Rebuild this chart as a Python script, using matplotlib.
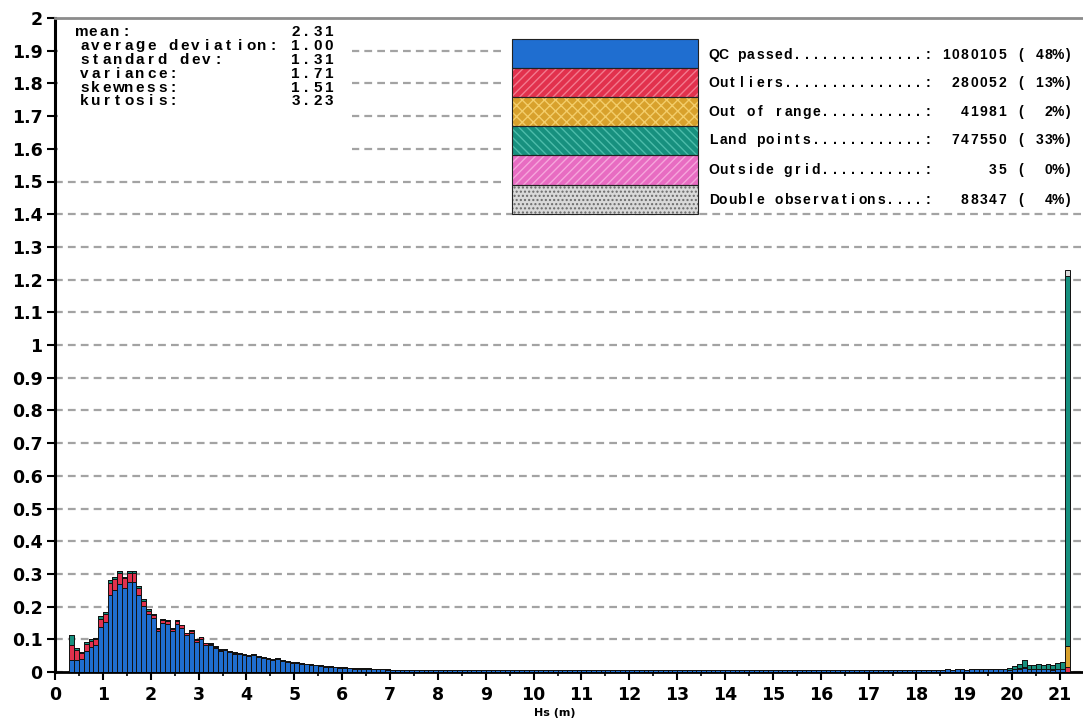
import numpy as np
import matplotlib
matplotlib.use("Agg")
import matplotlib.pyplot as plt
from matplotlib.patches import Rectangle

# ---------------------------------------------------------------- data
bin_width = 0.1
first_bin = 0.3

# 0.3 .. 6.9 m
qc_main = [
    0.037, 0.038, 0.040, 0.065, 0.075, 0.082, 0.137, 0.152, 0.237, 0.250,
    0.268, 0.256, 0.274, 0.275, 0.237, 0.203, 0.176, 0.164, 0.124, 0.150,
    0.148, 0.125, 0.147, 0.135, 0.112, 0.119, 0.093, 0.101, 0.084, 0.082,
    0.073, 0.065, 0.067, 0.060, 0.056, 0.054, 0.051, 0.049, 0.051, 0.045,
    0.042, 0.039, 0.037, 0.039, 0.034, 0.032, 0.029, 0.028, 0.025, 0.023,
    0.021, 0.020, 0.018, 0.016, 0.015, 0.014, 0.013, 0.012, 0.011, 0.010,
    0.010, 0.009, 0.009, 0.008, 0.008, 0.008, 0.007,
]
outliers_main = [
    0.045, 0.030, 0.018, 0.022, 0.020, 0.018, 0.025, 0.025, 0.035, 0.035,
    0.035, 0.030, 0.030, 0.028, 0.020, 0.015, 0.012, 0.010, 0.008, 0.009,
    0.009, 0.008, 0.008, 0.008, 0.006, 0.007, 0.005, 0.005, 0.004, 0.004,
    0.004, 0.003, 0.003, 0.003, 0.003, 0.003, 0.002, 0.002, 0.002, 0.002,
    0.002, 0.002, 0.002, 0.002, 0.001, 0.001, 0.001, 0.001, 0.001, 0.001,
    0.001, 0.001, 0.001, 0.001, 0.001, 0.001, 0.001, 0.001, 0.001, 0.001,
    0.001, 0.001, 0.001, 0.001, 0.001, 0.001, 0.001,
]
land_main = [
    0.030, 0.004, 0.004, 0.005, 0.005, 0.005, 0.008, 0.008, 0.008, 0.007,
    0.007, 0.006, 0.006, 0.005, 0.005, 0.004, 0.004, 0.004, 0.003, 0.003,
    0.003, 0.002, 0.003, 0.002, 0.002, 0.002, 0.002, 0.002, 0.002, 0.002,
    0.001, 0.001, 0.001, 0.001, 0.001, 0.001, 0.001, 0.001, 0.001, 0.001,
    0.001, 0.001, 0.001, 0.001, 0.001, 0.001, 0.001, 0.001, 0.001, 0.001,
    0.001, 0.001, 0.001, 0.001, 0.001, 0.001, 0.001, 0.001, 0.001, 0.001,
    0.001, 0.001, 0.001, 0.001, 0.001, 0.001, 0.001,
]

# 7.0 .. 19.8 m
qc_tail = [
    0.007, 0.007, 0.007, 0.007, 0.006, 0.006, 0.006, 0.006, 0.006, 0.006,
    0.006, 0.006, 0.006, 0.005, 0.006, 0.005, 0.005, 0.005, 0.005, 0.005,
    0.005, 0.005, 0.005, 0.005, 0.005, 0.005, 0.005, 0.005, 0.005, 0.005,
    0.005, 0.005, 0.005, 0.005, 0.005, 0.005, 0.005, 0.005, 0.005, 0.005,
    0.005, 0.005, 0.005, 0.005, 0.005, 0.005, 0.005, 0.005, 0.005, 0.005,
    0.005, 0.005, 0.005, 0.005, 0.005, 0.005, 0.005, 0.005, 0.005, 0.005,
    0.005, 0.005, 0.005, 0.005, 0.005, 0.005, 0.005, 0.005, 0.005, 0.005,
    0.005, 0.005, 0.005, 0.005, 0.005, 0.005, 0.005, 0.005, 0.005, 0.005,
    0.005, 0.005, 0.005, 0.005, 0.005, 0.005, 0.005, 0.005, 0.005, 0.005,
    0.005, 0.005, 0.005, 0.005, 0.005, 0.005, 0.005, 0.005, 0.006, 0.005,
    0.006, 0.005, 0.006, 0.006, 0.006, 0.006, 0.006, 0.007, 0.006, 0.006,
    0.007, 0.006, 0.007, 0.007, 0.007, 0.007, 0.008, 0.007, 0.008, 0.008,
    0.007, 0.008, 0.008, 0.008, 0.009, 0.009, 0.009, 0.010, 0.010,
]

# 19.9 .. 21.0 m
qc_end = [0.006, 0.008, 0.010, 0.012, 0.009, 0.008, 0.009, 0.008, 0.009, 0.007, 0.008, 0.008]
outliers_end = [0.001, 0.001, 0.001, 0.002, 0.001, 0.001, 0.001, 0.001, 0.001, 0.001, 0.001, 0.001]
land_end = [0.005, 0.009, 0.013, 0.024, 0.012, 0.011, 0.014, 0.013, 0.015, 0.012, 0.017, 0.021]

# 21.1 m bin
qc_spike = 0.0
outliers_spike = 0.015
range_spike = 0.065
land_spike = 1.130
double_spike = 0.020

n_tail = len(qc_tail)
n_end = len(qc_end)
qc_passed = qc_main + qc_tail + qc_end + [qc_spike]
outliers = outliers_main + [0.0] * n_tail + outliers_end + [outliers_spike]
out_of_range = [0.0] * (len(qc_main) + n_tail + n_end) + [range_spike]
land_points = land_main + [0.0] * n_tail + land_end + [land_spike]
outside_grid = [0.0] * len(qc_passed)
double_obs = [0.0] * (len(qc_main) + n_tail + n_end) + [double_spike]

categories = ["QC passed", "Outliers", "Out of range", "Land points",
              "Outside grid", "Double observations"]
counts = [1080105, 280052, 41981, 747550, 35, 88347]
percents = [48, 13, 2, 33, 0, 4]

stat_names = ["mean:", "average deviation:", "standard dev:", "variance:",
              "skewness:", "kurtosis:"]
stat_values = [2.31, 1.00, 1.31, 1.71, 1.51, 3.23]

colors = ["#1f6ed0", "#e2314d", "#d8a12c", "#17907e", "#e86cc2", "#d9d9d9"]
hatch_colors = [None, "#f27a8e", "#f3cd6a", "#4dbcaa", "#f6a6dc", "#6a6a6a"]
hatches = [None, "////", "xxx", "\\\\\\\\", "////", "...."]

# ---------------------------------------------------------------- figure
W, H = 1083, 726
fig = plt.figure(figsize=(W / 100, H / 100), dpi=100)
fig.patch.set_facecolor("white")


def fx(px):
    return px / W


def fy(py):
    return 1 - py / H


ax = fig.add_axes([fx(55), 54 / H, 1028 / W, 654 / H])
ax.set_xlim(0, 21.48)
ax.set_ylim(0, 2)

lefts = first_bin + bin_width * np.arange(len(qc_passed))
layers = [qc_passed, outliers, out_of_range, land_points, outside_grid, double_obs]
bottom = np.zeros(len(qc_passed))
for vals, col in zip(layers, colors):
    vals = np.asarray(vals)
    ax.bar(lefts, vals, width=bin_width, bottom=bottom, align="edge",
           color=col, edgecolor="#111111", linewidth=0.7, zorder=3)
    bottom = bottom + vals

# axes styling
yticks = np.round(np.arange(0, 2.001, 0.1), 1)
ax.set_yticks(yticks)
ax.set_yticklabels([f"{v:g}" for v in yticks])
ax.set_xticks(np.arange(0, 22, 1))
ax.set_xticks(np.arange(0.5, 21.5, 1), minor=True)
for lab in ax.get_xticklabels() + ax.get_yticklabels():
    lab.set_fontfamily("DejaVu Sans")
    lab.set_fontweight("bold")
    lab.set_fontsize(12.5)
ax.tick_params(axis="x", which="major", direction="out", length=6, width=1.5, pad=4)
ax.tick_params(axis="x", which="minor", direction="out", length=3, width=1.2)
ax.tick_params(axis="y", which="major", direction="out", length=6, width=1.5, pad=3)

ax.spines["right"].set_visible(False)
ax.spines["top"].set_color("#8c8c8c")
ax.spines["top"].set_linewidth(2)
ax.spines["left"].set_linewidth(2.2)
ax.spines["bottom"].set_linewidth(2)

ax.set_axisbelow(True)
ax.yaxis.grid(True, color="#a3a3a3", linewidth=1.6, linestyle=(0, (3.5, 2.3)))

ax.set_xlabel("Hs (m)", fontsize=8, fontweight="bold", family="DejaVu Sans")
ax.xaxis.set_label_coords((555 - 55) / 1028, -(708 - 672) / 654)

# white panels behind the statistics and the legend
fig.add_artist(Rectangle((fx(58), fy(162)), fx(352) - fx(58), fy(21) - fy(162),
                         transform=fig.transFigure, facecolor="white",
                         edgecolor="none", zorder=0.5))
fig.add_artist(Rectangle((fx(505), fy(212)), fx(1083) - fx(505), fy(21) - fy(212),
                         transform=fig.transFigure, facecolor="white",
                         edgecolor="none", zorder=0.5))


def spaced_text(x0, y, s, pitch, size):
    """Write s with a fixed advance per character (pixel coordinates)."""
    for i, ch in enumerate(s):
        if ch == " ":
            continue
        fig.text(fx(x0 + (i + 0.5) * pitch), fy(y), ch, ha="center", va="center",
                 fontsize=size, fontweight="bold", family="Liberation Sans",
                 color="black", zorder=4)


# statistics block
stat_rows = [32, 45.5, 60, 74.5, 88, 101]
stat_x = [76, 79, 79, 79, 79, 79]
for name, val, yy, xx in zip(stat_names, stat_values, stat_rows, stat_x):
    spaced_text(xx, yy, f"{name:<19}", 11.1, 11)
    spaced_text(79 + 19 * 11.1, yy, f"{val:.2f}", 11.1, 11)

# legend block
sw_x0, sw_x1 = 512, 698
sw_edges = [39, 68, 97, 126, 155, 185, 214]
text_rows = [55, 83, 112, 140, 170, 200]
for i, name in enumerate(categories):
    top, bot = sw_edges[i], sw_edges[i + 1]
    rect_kw = dict(transform=fig.transFigure, zorder=3)
    if hatches[i]:
        fig.add_artist(Rectangle((fx(sw_x0), fy(bot)), fx(sw_x1) - fx(sw_x0),
                                 fy(top) - fy(bot), facecolor=colors[i],
                                 edgecolor=hatch_colors[i], hatch=hatches[i],
                                 linewidth=0, **rect_kw))
    else:
        fig.add_artist(Rectangle((fx(sw_x0), fy(bot)), fx(sw_x1) - fx(sw_x0),
                                 fy(top) - fy(bot), facecolor=colors[i],
                                 edgecolor="none", **rect_kw))
    fig.add_artist(Rectangle((fx(sw_x0), fy(bot)), fx(sw_x1) - fx(sw_x0),
                             fy(top) - fy(bot), fill=False, edgecolor="#222222",
                             linewidth=0.8, transform=fig.transFigure, zorder=3.5))
    line = f"{name:.<23}: {counts[i]:>7} ({percents[i]:>3d}%)"
    spaced_text(709, text_rows[i], line, 9.3, 10)

fig.savefig("out.png", dpi=100)
